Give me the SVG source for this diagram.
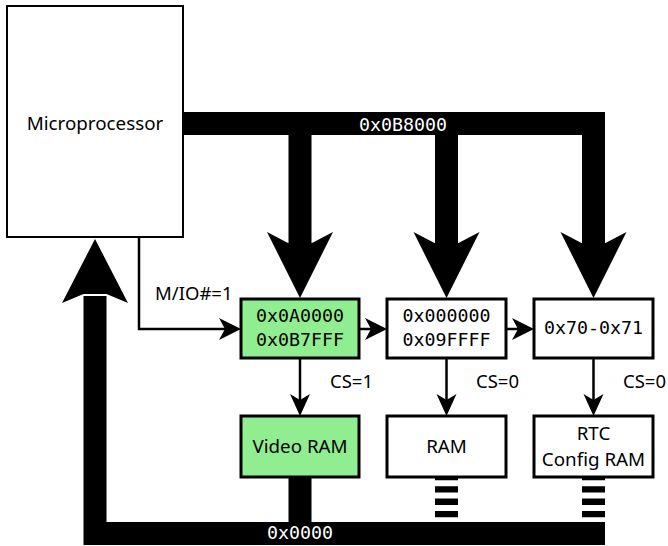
<svg xmlns="http://www.w3.org/2000/svg" width="668" height="546" viewBox="0 0 668 546">
<style>
.box{fill:#fff;stroke:#000;stroke-width:3}
.green{fill:#90ee90}
.cpu{fill:#fff;stroke:#000;stroke-width:2}
.bus{fill:none;stroke:#000;stroke-width:23;stroke-linejoin:miter}
.dash{fill:none;stroke:#000;stroke-width:23;stroke-dasharray:6.3 6}
.thin{fill:none;stroke:#000;stroke-width:2.5}
.head{fill:#000}
.t{font-family:"Noto Sans","DejaVu Sans",sans-serif;font-size:18.8px;fill:#000;text-anchor:middle}
.lab{font-family:"Noto Sans","DejaVu Sans",sans-serif;font-size:18.5px;fill:#000}
.m{font-family:"DejaVu Sans Mono","Liberation Mono",monospace;font-size:18.3px;fill:#000;text-anchor:middle}
.mw{font-family:"DejaVu Sans Mono","Liberation Mono",monospace;font-size:18.3px;fill:#fff;text-anchor:middle}
</style>
<g id="connectors">
<path class="bus" d="M183,123.5 H593.5 V245"/>
<path class="bus" d="M300,123.5 V245"/>
<path class="bus" d="M446.5,123.5 V245"/>
<polygon class="head" points="300,298 333,232 312,243 288,243 267,232"/>
<polygon class="head" points="446.5,298 479.5,232 458.5,243 434.5,243 413.5,232"/>
<polygon class="head" points="593.5,298 626.5,232 605.5,243 581.5,243 560.5,232"/>
<path class="bus" d="M605,533.5 H95 V296"/>
<polygon class="head" points="95,239 128,303 106.5,294 83.5,294 62,303"/>
<path class="bus" d="M300,477 V523"/>
<path class="dash" d="M446.5,474 V522"/>
<path class="dash" d="M593.5,474 V522"/>
<text class="mw" x="403" y="131">0x0B8000</text>
<text class="mw" x="300" y="539">0x0000</text>
<path class="thin" d="M139,237 V329 H226"/>
<polygon class="head" points="241,329 219,318 225,329 219,340"/>
<path class="thin" d="M359,329 H372"/>
<polygon class="head" points="387,329 365,318 371,329 365,340"/>
<path class="thin" d="M506,329 H519"/>
<polygon class="head" points="534,329 512,318 518,329 512,340"/>
<path class="thin" d="M300,358 V402"/>
<polygon class="head" points="300,416 290,394 300,400 310,394"/>
<path class="thin" d="M446.5,358 V402"/>
<polygon class="head" points="446.5,416 436.5,394 446.5,400 456.5,394"/>
<path class="thin" d="M593.5,358 V402"/>
<polygon class="head" points="593.5,416 583.5,394 593.5,400 603.5,394"/>
<text class="lab" x="155" y="300">M/IO#=1</text>
<text class="lab" x="330" y="388">CS=1</text>
<text class="lab" x="476" y="388">CS=0</text>
<text class="lab" x="623" y="388">CS=0</text>
</g>
<g id="cpu">
<rect class="cpu" x="7" y="6" width="176" height="231"/>
<text class="t" x="95" y="130">Microprocessor</text>
</g>
<g id="vram-decoder">
<rect class="box green" x="241" y="299" width="118" height="59"/>
<text class="m" x="300" y="322">0x0A0000</text>
<text class="m" x="300" y="346">0x0B7FFF</text>
</g>
<g id="ram-decoder">
<rect class="box" x="387" y="299" width="119" height="59"/>
<text class="m" x="446.5" y="322">0x000000</text>
<text class="m" x="446.5" y="346">0x09FFFF</text>
</g>
<g id="rtc-decoder">
<rect class="box" x="534" y="299" width="119" height="59"/>
<text class="m" x="593.5" y="334">0x70-0x71</text>
</g>
<g id="vram">
<rect class="box green" x="241" y="416" width="118" height="61"/>
<text class="t" x="300" y="453">Video RAM</text>
</g>
<g id="ram">
<rect class="box" x="387" y="416" width="119" height="61"/>
<text class="t" x="446.5" y="453">RAM</text>
</g>
<g id="rtc">
<rect class="box" x="534" y="416" width="119" height="61"/>
<text class="t" x="593.5" y="440">RTC</text>
<text class="t" x="593.5" y="466">Config RAM</text>
</g>
</svg>
